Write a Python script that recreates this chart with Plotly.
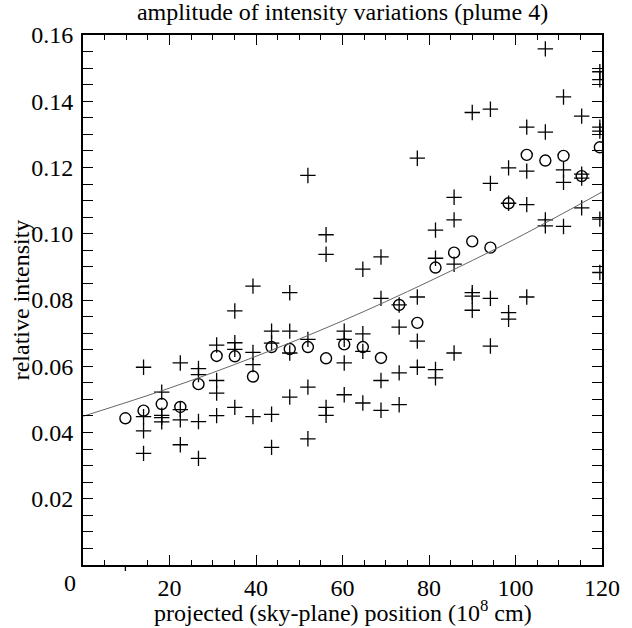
import plotly.graph_objects as go

# projected position of each bin (10^8 cm)
x_pos = [9.8, 14.0, 18.2, 22.5, 26.7, 30.9, 35.1, 39.3, 43.6, 47.8, 52.0, 56.2, 60.4, 64.7,
         68.9, 73.1, 77.3, 81.5, 85.8, 90.0, 94.2, 98.4, 102.6, 106.9, 111.1, 115.3, 119.5]

# mean amplitude per bin (circles)
mean_amp = [0.0443, 0.0466, 0.0486, 0.0477, 0.0546, 0.0631, 0.0630, 0.0569, 0.0658, 0.0652,
            0.0658, 0.0624, 0.0666, 0.0658, 0.0625, 0.0785, 0.0731, 0.0898, 0.0943, 0.0977,
            0.0958, 0.1092, 0.1238, 0.1221, 0.1235, 0.1174, 0.1261]

# individual amplitudes per bin (plus signs)
sample_amp = [
    [],
    [0.0597, 0.0448, 0.0405, 0.0337],
    [0.0522, 0.0452, 0.0445, 0.0432],
    [0.0610, 0.0469, 0.0438, 0.0363],
    [0.0593, 0.0575, 0.0433, 0.0322],
    [0.0664, 0.0557, 0.0519, 0.0451],
    [0.0767, 0.0671, 0.0651, 0.0476],
    [0.0842, 0.0642, 0.0605, 0.0448],
    [0.0706, 0.0670, 0.0455, 0.0355],
    [0.0822, 0.0706, 0.0640, 0.0507],
    [0.1176, 0.0681, 0.0537, 0.0381],
    [0.0997, 0.0938, 0.0476, 0.0452],
    [0.0706, 0.0681, 0.0610, 0.0514],
    [0.0893, 0.0698, 0.0645, 0.0489],
    [0.0930, 0.0805, 0.0557, 0.0467],
    [0.0785, 0.0718, 0.0580, 0.0484],
    [0.1228, 0.0809, 0.0676, 0.0597],
    [0.1011, 0.0926, 0.0590, 0.0565],
    [0.1110, 0.1042, 0.0908, 0.0640],
    [0.1366, 0.0822, 0.0812, 0.0769],
    [0.1376, 0.1152, 0.0805, 0.0661],
    [0.1199, 0.1092, 0.0762, 0.0742],
    [0.1322, 0.1189, 0.1088, 0.0809],
    [0.1558, 0.1307, 0.1042, 0.1024],
    [0.1413, 0.1193, 0.1155, 0.1022],
    [0.1355, 0.1180, 0.1168, 0.1078],
    [0.1489, 0.1465, 0.1322, 0.1310, 0.1044, 0.0883],
]

# fitted trend curve
fit_x = [0, 20, 40, 60, 80, 100, 120]
fit_y = [0.0449, 0.0534, 0.0630, 0.0737, 0.0856, 0.0985, 0.1126]

x_ticks = [20, 40, 60, 80, 100, 120]
x_ticktext = ["20", "40", "60", "80", "100", "120"]
x_minor_top = [5, 10, 15, 25, 30, 35, 45, 50, 55, 65, 70, 75, 85, 90, 95, 105, 110, 115]
x_minor_bottom = [5, 15, 25, 30, 35, 45, 50, 55, 65, 70, 75, 85, 90, 95, 105, 110, 115]
y_ticks = [0.02, 0.04, 0.06, 0.08, 0.10, 0.12, 0.14, 0.16]
y_ticktext = ["0.02", "0.04", "0.06", "0.08", "0.10", "0.12", "0.14", "0.16"]

FONT = "Liberation Serif, Times New Roman, serif"
FS = 24
PW, PH = 530, 530  # plot area size in px

plus_x, plus_y = [], []
for xv, vals in zip(x_pos, sample_amp):
    for v in vals:
        plus_x.append(xv)
        plus_y.append(v)

fig = go.Figure()
fig.add_trace(go.Scatter(
    x=plus_x, y=plus_y, mode="markers",
    marker=dict(symbol="cross-thin-open", size=11, color="black", line=dict(width=1.3, color="black")),
    hoverinfo="x+y", showlegend=False))
fig.add_trace(go.Scatter(
    x=x_pos, y=mean_amp, mode="markers",
    marker=dict(symbol="circle-open", size=11, color="black", line=dict(width=1.4, color="black")),
    showlegend=False))
fig.add_trace(go.Scatter(
    x=fit_x, y=fit_y, mode="lines", line=dict(color="#666666", width=1, shape="spline"),
    showlegend=False))
# invisible trace to activate the top axis
fig.add_trace(go.Scatter(
    x=[fit_x[0]], y=[fit_y[0]], xaxis="x2", mode="markers",
    marker=dict(opacity=0), hoverinfo="skip", showlegend=False))

axis_common = dict(showgrid=False, zeroline=False, linecolor="black", linewidth=2,
                   ticks="inside", ticklen=10, tickwidth=1.3, tickcolor="black")
tfont = dict(family=FONT, size=FS, color="black")

fig.update_layout(
    width=632, height=628,
    margin=dict(l=83, r=19, t=35, b=63),
    paper_bgcolor="white", plot_bgcolor="white",
    font=tfont,
    title=dict(text="amplitude of intensity variations (plume 4)", x=0.5, xref="paper",
               y=0.981, yref="container", xanchor="center", yanchor="middle", font=tfont),
    xaxis=dict(range=[0, 120], showline=True, mirror=True,
               tickvals=x_ticks, ticktext=x_ticktext, tickfont=tfont,
               minor=dict(tickvals=x_minor_bottom, ticks="inside", ticklen=5, tickwidth=1.3,
                          tickcolor="black", showgrid=False),
               **axis_common),
    xaxis2=dict(range=[0, 120], overlaying="x", side="top", showline=False,
                showticklabels=False, tickvals=x_ticks,
                minor=dict(tickvals=x_minor_top, ticks="inside", ticklen=5, tickwidth=1.3,
                           tickcolor="black", showgrid=False),
                showgrid=False, zeroline=False, ticks="inside", ticklen=10, tickwidth=1.3,
                tickcolor="black"),
    yaxis=dict(range=[0, 0.16], showline=True, mirror="allticks",
               tickvals=y_ticks, ticktext=y_ticktext, tickfont=tfont,
               ticklabelstandoff=3,
               minor=dict(dtick=0.005, tick0=0, ticks="inside", ticklen=5, tickwidth=1.3,
                          tickcolor="black", showgrid=False),
               **axis_common),
    annotations=[
        dict(text="0", x=(70 - 83) / PW, y=(565 - 583) / PH, xref="paper", yref="paper",
             xanchor="center", yanchor="middle", showarrow=False, font=tfont),
        dict(text="projected (sky-plane) position (10<sup>8</sup> cm)",
             x=0.5, y=(565 - 611) / PH, xref="paper", yref="paper",
             xanchor="center", yanchor="middle", showarrow=False, font=tfont),
        dict(text="relative intensity", textangle=-90,
             x=(20 - 83) / PW, y=0.5, xref="paper", yref="paper",
             xanchor="center", yanchor="middle", showarrow=False, font=tfont),
    ],
    shapes=[dict(type="line", xref="x", yref="paper", x0=x_pos[0], x1=x_pos[0],
                 y0=0, y1=-6 / PH, line=dict(color="black", width=1.3))],
)

fig.write_html("out.html",
               config={"displayModeBar": False},
               post_script="document.body.style.margin='0';document.body.style.padding='0';")
